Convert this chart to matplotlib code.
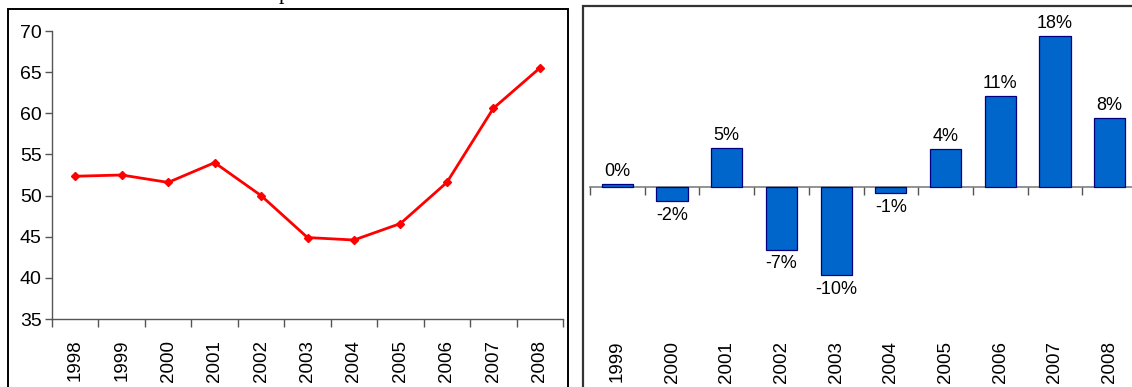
import matplotlib
matplotlib.use("Agg")
import matplotlib.pyplot as plt
from matplotlib.patches import Rectangle
from matplotlib.ticker import FixedLocator, NullFormatter

# ---- data ----
years = ["1998", "1999", "2000", "2001", "2002", "2003",
         "2004", "2005", "2006", "2007", "2008"]
index_values = [52.35, 52.5, 51.6, 54.0, 50.0, 44.9, 44.6, 46.6, 51.6, 60.6, 65.5]

change_years = ["1999", "2000", "2001", "2002", "2003",
                "2004", "2005", "2006", "2007", "2008"]
change_values = [0.003, -0.017, 0.046, -0.074, -0.104, -0.007, 0.045, 0.107, 0.178, 0.081]

y_ticks = [35, 40, 45, 50, 55, 60, 65, 70]

plt.rcParams["font.family"] = ["Liberation Sans", "DejaVu Sans"]

W, H = 1132, 387
fig = plt.figure(figsize=(W / 100, H / 100), dpi=100)


def fx(px):
    return px / W


def fy(py):
    return 1 - py / H


axis_color = "#555555"

# ---- panel frames ----
fig.patches.append(Rectangle((fx(8), fy(420)), fx(568 - 8), fy(9) - fy(420),
                             transform=fig.transFigure, fill=False,
                             edgecolor="black", linewidth=1.4, clip_on=False))
fig.patches.append(Rectangle((fx(583), fy(420)), fx(1180 - 583), fy(6) - fy(420),
                             transform=fig.transFigure, fill=False,
                             edgecolor="#333333", linewidth=1.6, clip_on=False))

# title above the panels, mostly outside the canvas
fig.text(fx(279), fy(-1), "p", family="Liberation Serif", fontsize=16,
         va="baseline", ha="left", color="black")

# ---- left: index line ----
ax1 = fig.add_axes([fx(52), fy(319), fx(563 - 52), fy(31) - fy(319)])
x1 = list(range(len(years)))
ax1.plot(x1, index_values, color="#FF0000", linewidth=2.0,
         marker="D", markersize=4.5, markeredgecolor="#FF0000",
         markerfacecolor="#FF0000")
ax1.set_ylim(35, 70)
ax1.set_xlim(-0.5, len(years) - 0.5)
ax1.set_yticks(y_ticks)
ax1.set_yticklabels([str(v) for v in y_ticks], fontsize=14)
ax1.set_xticks(x1)
ax1.set_xticklabels(years, rotation=90, fontsize=13.5)
ax1.xaxis.set_minor_locator(FixedLocator([i - 0.5 for i in range(len(years) + 1)]))
ax1.xaxis.set_minor_formatter(NullFormatter())
ax1.tick_params(axis="x", which="major", length=0, pad=15)
ax1.tick_params(axis="x", which="minor", length=6, width=1, color=axis_color, direction="out")
ax1.tick_params(axis="y", length=5, width=1, color=axis_color, direction="out", pad=2.5)
for side in ("top", "right"):
    ax1.spines[side].set_visible(False)
for side in ("left", "bottom"):
    ax1.spines[side].set_color(axis_color)
    ax1.spines[side].set_linewidth(1)
ax1.set_facecolor("none")

# ---- right: year-on-year change bars ----
ax2 = fig.add_axes([fx(590), fy(320), fx(1137 - 590), fy(20) - fy(320)])
x2 = list(range(len(change_years)))
bars = ax2.bar(x2, change_values, width=0.57, color="#0066CC",
               edgecolor="#000080", linewidth=0.9, zorder=2)
ax2.set_xlim(-0.5, len(change_years) - 0.5)
ax2.set_ylim(-0.1565, 0.1965)
for rect, v in zip(bars, change_values):
    label = f"{round(v * 100):.0f}%"
    if label == "-0%":
        label = "0%"
    cx = rect.get_x() + rect.get_width() / 2
    if v >= 0:
        ax2.annotate(label, (cx, v), xytext=(0, 3), textcoords="offset points",
                     ha="center", va="bottom", fontsize=13)
    else:
        ax2.annotate(label, (cx, v), xytext=(0, -4), textcoords="offset points",
                     ha="center", va="top", fontsize=13)

ax2.spines["bottom"].set_position(("data", 0))
ax2.spines["bottom"].set_color("#808080")
ax2.spines["bottom"].set_linewidth(1.2)
ax2.spines["bottom"].set_zorder(1)
for side in ("top", "right", "left"):
    ax2.spines[side].set_visible(False)
ax2.set_yticks([])
ax2.set_xticks([i - 0.5 for i in range(len(change_years) + 1)])
ax2.set_xticklabels([])
ax2.tick_params(axis="x", length=6, width=1, color=axis_color, direction="out")

sec = ax2.secondary_xaxis(0.0)
sec.set_xticks(x2)
sec.set_xticklabels(change_years, rotation=90, fontsize=13.5)
sec.tick_params(length=0, pad=15)
sec.spines["bottom"].set_visible(False)
ax2.set_facecolor("none")

fig.savefig("out.png", dpi=100)
